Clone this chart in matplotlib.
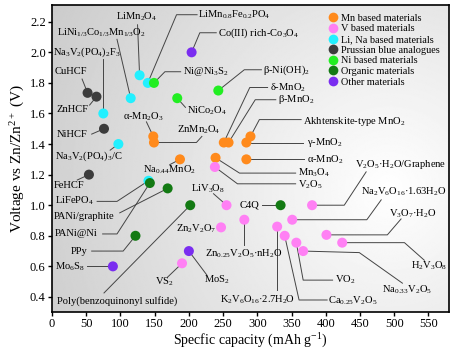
import matplotlib
matplotlib.use("Agg")
import matplotlib.pyplot as plt
from matplotlib.lines import Line2D
import numpy as np

plt.rcParams['font.family'] = ['Liberation Serif', 'DejaVu Serif']
plt.rcParams['mathtext.fontset'] = 'custom'
plt.rcParams['mathtext.rm'] = 'Liberation Serif'
plt.rcParams['mathtext.it'] = 'Liberation Serif:italic'
plt.rcParams['mathtext.default'] = 'regular'

# material groups, colours and legend names
groups = ['Mn', 'V', 'LiNa', 'PB', 'Ni', 'Org', 'Other']
group_names = ['Mn based materials', 'V based materials', 'Li, Na based materials',
               'Prussian blue analogues', 'Ni based materials', 'Organic materials',
               'Other materials']
group_colors = ['#ff8a1c', '#ff80f4', '#22f0ff', '#3c3c3c', '#22ee22', '#137a13', '#7a2df0']

# data: label, capacity (mAh/g), voltage (V), group
labels = [
    'α-Mn$_2$O$_3$', 'ZnMn$_2$O$_4$', 'Na$_{0.44}$MnO$_2$', 'δ-MnO$_2$', 'β-MnO$_2$',
    'Akhtenskite-type MnO$_2$', 'γ-MnO$_2$', 'α-MnO$_2$', 'Mn$_3$O$_4$',
    'V$_2$O$_5$', 'LiV$_3$O$_8$', 'V$_2$O$_5$·H$_2$O/Graphene', 'Na$_2$V$_6$O$_{16}$·1.63H$_2$O',
    'Zn$_{0.25}$V$_2$O$_5$·nH$_2$O', 'Zn$_2$V$_2$O$_7$', 'K$_2$V$_6$O$_{16}$·2.7H$_2$O',
    'Ca$_{0.25}$V$_2$O$_5$', 'VO$_2$', 'Na$_{0.33}$V$_2$O$_5$', 'V$_3$O$_7$·H$_2$O',
    'H$_2$V$_3$O$_8$', 'VS$_2$',
    'LiMn$_2$O$_4$', 'LiMn$_{0.8}$Fe$_{0.2}$PO$_4$', 'LiNi$_{1/3}$Co$_{1/3}$Mn$_{1/3}$O$_2$',
    'Na$_3$V$_2$(PO$_4$)$_2$F$_3$', 'Na$_3$V$_2$(PO$_4$)$_3$/C', 'LiFePO$_4$',
    'CuHCF', 'ZnHCF', 'NiHCF', 'FeHCF',
    'Ni@Ni$_3$S$_2$', 'NiCo$_2$O$_4$', 'β-Ni(OH)$_2$',
    'PANi@Ni', 'PANi/graphite', 'Poly(benzoquinonyl sulfide)', 'PPy', 'C4Q',
    'Co(III) rich-Co$_3$O$_4$', 'MoS$_2$', 'Mo$_6$S$_8$',
]
capacity = [148, 149, 187, 251, 258, 290, 284, 284, 239,
            238, 255, 380, 351, 281, 247, 329, 340, 357, 367, 401, 424, 190,
            128, 140, 115, 75, 97, 141,
            52, 65, 76, 54,
            149, 183, 243,
            143, 169, 202, 122, 334,
            204, 200, 89]
voltage = [1.45, 1.41, 1.30, 1.41, 1.41, 1.45, 1.41, 1.30, 1.31,
           1.25, 1.00, 1.00, 0.905, 0.905, 0.855, 0.86, 0.80, 0.755, 0.70, 0.806, 0.755, 0.62,
           1.85, 1.80, 1.70, 1.60, 1.40, 1.16,
           1.735, 1.71, 1.50, 1.20,
           1.80, 1.70, 1.75,
           1.145, 1.11, 1.00, 0.80, 1.00,
           2.00, 0.70, 0.60]
group = ['Mn'] * 9 + ['V'] * 13 + ['LiNa'] * 6 + ['PB'] * 4 + ['Ni'] * 3 + ['Org'] * 5 + ['Other'] * 3

# label placement: text x, text y, ha, leader vertices (the point itself is added)
layout = {
    'α-Mn$_2$O$_3$': (104, 1.578, 'left', [(138, 1.545)]),
    'ZnMn$_2$O$_4$': (182, 1.493, 'left', [(219, 1.45), (211, 1.41)]),
    'Na$_{0.44}$MnO$_2$': (133, 1.23, 'left', [(172, 1.265)]),
    'δ-MnO$_2$': (318, 1.77, 'left', [(315, 1.77), (289, 1.77)]),
    'β-MnO$_2$': (330, 1.69, 'left', [(327, 1.69), (297, 1.69)]),
    'Akhtenskite-type MnO$_2$': (367, 1.545, 'left', [(364, 1.56), (303, 1.56)]),
    'γ-MnO$_2$': (372, 1.41, 'left', [(367, 1.41)]),
    'α-MnO$_2$': (373, 1.30, 'left', [(368, 1.30)]),
    'Mn$_3$O$_4$': (359, 1.21, 'left', [(356, 1.21), (274, 1.21)]),
    'V$_2$O$_5$': (359, 1.133, 'left', [(356, 1.14), (271, 1.14)]),
    'LiV$_3$O$_8$': (203, 1.107, 'left', [(236, 1.075)]),
    'V$_2$O$_5$·H$_2$O/Graphene': (442, 1.264, 'left', [(459, 1.218), (427, 1.0)]),
    'Na$_2$V$_6$O$_{16}$·1.63H$_2$O': (452, 1.088, 'left', [(481, 1.035), (460, 0.905)]),
    'Zn$_{0.25}$V$_2$O$_5$·nH$_2$O': (223, 0.68, 'left', [(281, 0.74)]),
    'Zn$_2$V$_2$O$_7$': (181, 0.845, 'left', []),
    'K$_2$V$_6$O$_{16}$·2.7H$_2$O': (245, 0.38, 'left', [(329, 0.445)]),
    'Ca$_{0.25}$V$_2$O$_5$': (404, 0.374, 'left', [(402, 0.38), (361, 0.38)]),
    'VO$_2$': (413, 0.51, 'left', [(410, 0.51), (367, 0.51)]),
    'Na$_{0.33}$V$_2$O$_5$': (482, 0.446, 'left', [(512, 0.49), (449, 0.69)]),
    'V$_3$O$_7$·H$_2$O': (493, 0.943, 'left', [(510, 0.91), (490, 0.806)]),
    'H$_2$V$_3$O$_8$': (525, 0.603, 'left', [(544, 0.64), (515, 0.755)]),
    'VS$_2$': (150, 0.498, 'left', [(169, 0.53)]),
    'LiMn$_2$O$_4$': (124, 2.233, 'center', [(125, 2.18)]),
    'LiMn$_{0.8}$Fe$_{0.2}$PO$_4$': (214, 2.246, 'left', [(212, 2.246), (182, 2.246)]),
    'LiNi$_{1/3}$Co$_{1/3}$Mn$_{1/3}$O$_2$': (7, 2.13, 'left', [(95, 2.085)]),
    'Na$_3$V$_2$(PO$_4$)$_2$F$_3$': (1.5, 2.0, 'left', [(75, 1.955)]),
    'Na$_3$V$_2$(PO$_4$)$_3$/C': (4, 1.32, 'left', [(85, 1.36)]),
    'LiFePO$_4$': (4, 1.03, 'left', [(66, 1.025), (95, 1.025)]),
    'CuHCF': (4, 1.873, 'left', [(44, 1.825)]),
    'ZnHCF': (7, 1.625, 'left', [(55, 1.655)]),
    'NiHCF': (7, 1.46, 'left', [(58, 1.465)]),
    'FeHCF': (3, 1.127, 'left', [(37, 1.165)]),
    'Ni@Ni$_3$S$_2$': (191, 1.873, 'left', [(188, 1.873), (165, 1.873)]),
    'NiCo$_2$O$_4$': (197, 1.617, 'left', [(195, 1.64)]),
    'β-Ni(OH)$_2$': (308, 1.886, 'left', [(306, 1.886), (281, 1.886)]),
    'PANi@Ni': (4, 0.812, 'left', [(74, 0.812), (95, 0.812)]),
    'PANi/graphite': (2, 0.924, 'left', [(99, 0.95)]),
    'Poly(benzoquinonyl sulfide)': (7, 0.374, 'left', [(76, 0.426)]),
    'PPy': (28, 0.70, 'left', [(58, 0.70), (104, 0.70)]),
    'C4Q': (274, 1.0, 'left', [(307, 1.0)]),
    'Co(III) rich-Co$_3$O$_4$': (242, 2.128, 'left', [(240, 2.128), (216, 2.128)]),
    'MoS$_2$': (222, 0.51, 'left', [(226, 0.545)]),
    'Mo$_6$S$_8$': (4, 0.597, 'left', [(51, 0.60)]),
}

fig = plt.figure(figsize=(4.6, 3.52), dpi=100)
ax = fig.add_axes([0.113, 0.113, 0.863, 0.873])
xmin, xmax, ymin, ymax = 0, 580, 0.3, 2.31

# grey radial background
gx, gy = np.meshgrid(np.linspace(0, 1, 300), np.linspace(0, 1, 300))
r = np.sqrt(((gx - 0.85) / 1.0) ** 2 + ((gy - 0.4) / 1.3) ** 2)
shade = np.clip(1.0 - 0.21 * r, 0, 1)
ax.imshow(shade, extent=[xmin, xmax, ymin, ymax], origin='lower', cmap='gray',
          vmin=0, vmax=1, aspect='auto', zorder=0, interpolation='bilinear')

for lab, cx, vy in zip(labels, capacity, voltage):
    tx, ty, ha, path = layout[lab]
    if path:
        pts = path + [(cx, vy)]
        ax.plot([p[0] for p in pts], [p[1] for p in pts], color='#444444', lw=0.7, zorder=2)
    ax.text(tx, ty, lab, ha=ha, va='center', fontsize=7.6, zorder=4)

for g, c in zip(groups, group_colors):
    xs = [x for x, gg in zip(capacity, group) if gg == g]
    ys = [y for y, gg in zip(voltage, group) if gg == g]
    ax.scatter(xs, ys, s=52, color=c, edgecolors='none', zorder=3)

handles = [Line2D([], [], marker='o', ls='', color=c, markersize=7, markeredgewidth=0)
           for c in group_colors]
ax.legend(handles, group_names, loc='upper left', bbox_to_anchor=(0.675, 0.995),
          frameon=False, fontsize=7.4, labelspacing=0.14, handletextpad=0.25,
          handlelength=1.1, borderpad=0.2)

ax.set_xlim(xmin, xmax)
ax.set_ylim(ymin, ymax)
ax.set_xticks(np.arange(0, 551, 50))
ax.set_yticks(np.arange(0.4, 2.21, 0.2))
ax.yaxis.set_major_formatter(plt.FormatStrFormatter('%.1f'))
ax.tick_params(direction='out', length=3, width=1, labelsize=9, pad=1.5)
for s in ax.spines.values():
    s.set_linewidth(1.2)
ax.set_xlabel('Specfic capacity (mAh g$^{-1}$)', fontsize=10, labelpad=1)
ax.set_ylabel('Voltage vs Zn/Zn$^{2+}$ (V)', fontsize=11, labelpad=2)

fig.savefig('out.png', dpi=100)
